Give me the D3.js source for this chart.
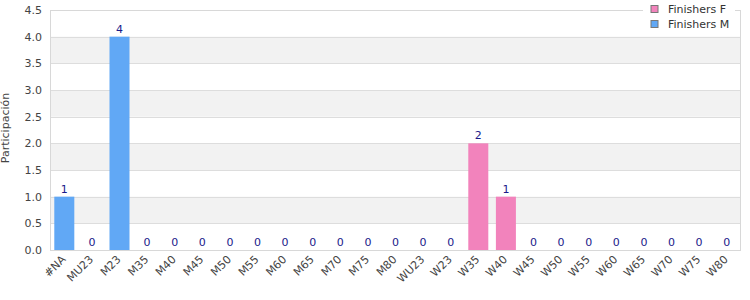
<!DOCTYPE html>
<html>
<head>
<meta charset="utf-8">
<script src="https://cdn.jsdelivr.net/npm/d3@7"></script>
<style>
  body { margin: 0; background: #fff; }
  svg { font-family: "DejaVu Sans", sans-serif; }
</style>
</head>
<body>
<svg id="chart" width="750" height="300"></svg>
<script>
const categories = ['#NA', 'MU23', 'M23', 'M35', 'M40', 'M45', 'M50', 'M55', 'M60', 'M65', 'M70', 'M75', 'M80',
  'WU23', 'W23', 'W35', 'W40', 'W45', 'W50', 'W55', 'W60', 'W65', 'W70', 'W75', 'W80'];
const finishersM = [1, 0, 4, 0, 0, 0, 0, 0, 0, 0, 0, 0, 0, 0, 0, 0, 0, 0, 0, 0, 0, 0, 0, 0, 0];
const finishersF = [0, 0, 0, 0, 0, 0, 0, 0, 0, 0, 0, 0, 0, 0, 0, 2, 1, 0, 0, 0, 0, 0, 0, 0, 0];
const yTicks = [0, 0.5, 1, 1.5, 2, 2.5, 3, 3.5, 4, 4.5];
const seriesNames = ['Finishers F', 'Finishers M'];

const colorF = '#f283bc';
const colorM = '#61a8f5';

const svg = d3.select('#chart');
const plotLeft = 50.5, plotRight = 740.5, plotTop = 10, plotBottom = 250;

const x = d3.scaleBand()
  .domain(categories)
  .range([plotLeft, plotRight])
  .paddingInner(0.275)
  .paddingOuter(0.1375);

const y = d3.scaleLinear()
  .domain([0, 4.5])
  .range([plotBottom, plotTop]);

// alternating bands
const bands = [[0.5, 1], [1.5, 2], [2.5, 3], [3.5, 4]];
svg.append('g').selectAll('rect')
  .data(bands)
  .enter().append('rect')
    .attr('x', plotLeft)
    .attr('width', plotRight - plotLeft)
    .attr('y', d => y(d[1]))
    .attr('height', d => y(d[0]) - y(d[1]))
    .attr('fill', '#f2f2f2');

// gridlines
svg.append('g').selectAll('line')
  .data(yTicks)
  .enter().append('line')
    .attr('x1', plotLeft)
    .attr('x2', plotRight)
    .attr('y1', d => Math.round(y(d)) + 0.5)
    .attr('y2', d => Math.round(y(d)) + 0.5)
    .attr('stroke', '#dddddd');

// plot border
svg.append('rect')
  .attr('x', plotLeft)
  .attr('y', plotTop + 0.5)
  .attr('width', plotRight - plotLeft)
  .attr('height', plotBottom - plotTop)
  .attr('fill', 'none')
  .attr('stroke', '#d8d8d8');

// y tick labels
svg.append('g').selectAll('text')
  .data(yTicks)
  .enter().append('text')
    .attr('x', 42)
    .attr('y', d => y(d) + 4)
    .attr('text-anchor', 'end')
    .attr('font-size', 11)
    .attr('fill', '#444')
    .text(d => d.toFixed(1));

svg.append('text')
  .attr('transform', 'translate(9,128) rotate(-90)')
  .attr('text-anchor', 'middle')
  .attr('font-size', 11)
  .attr('fill', '#444')
  .text('Participación');

// x labels
svg.append('g').selectAll('text')
  .data(categories)
  .enter().append('text')
    .attr('transform', d => `translate(${x(d) + x.bandwidth() / 2 + 2},${plotBottom + 10}) rotate(-45)`)
    .attr('text-anchor', 'end')
    .attr('font-size', 11)
    .attr('fill', '#444')
    .text(d => d);

// bars: each category takes the value of its non-zero series
const rows = categories.map((c, i) => ({
  cat: c,
  value: finishersM[i] || finishersF[i],
  color: finishersF[i] > 0 ? colorF : colorM
}));

svg.append('g').selectAll('rect')
  .data(rows.filter(d => d.value > 0))
  .enter().append('rect')
    .attr('x', d => x(d.cat))
    .attr('width', x.bandwidth())
    .attr('y', d => y(d.value))
    .attr('height', d => y(0) - y(d.value))
    .attr('fill', d => d.color);

svg.append('g').selectAll('text')
  .data(rows)
  .enter().append('text')
    .attr('x', d => x(d.cat) + x.bandwidth() / 2)
    .attr('y', d => y(d.value) - 4)
    .attr('text-anchor', 'middle')
    .attr('font-size', 11)
    .attr('fill', '#1a1a8a')
    .text(d => d.value);

// legend
const legend = svg.append('g');
legend.append('rect')
  .attr('x', 643)
  .attr('y', 0)
  .attr('width', 92)
  .attr('height', 32)
  .attr('fill', '#fff');

legend.selectAll('g')
  .data(seriesNames)
  .enter().append('g')
    .attr('transform', (d, i) => `translate(651,${5.5 + i * 15})`)
    .each(function (d, i) {
      const g = d3.select(this);
      g.append('rect')
        .attr('width', 7)
        .attr('height', 7)
        .attr('fill', i === 0 ? colorF : colorM)
        .attr('stroke', '#777');
      g.append('text')
        .attr('x', 17)
        .attr('y', 7)
        .attr('font-size', 11)
        .attr('fill', '#333')
        .text(d);
    });
</script>
</body>
</html>
